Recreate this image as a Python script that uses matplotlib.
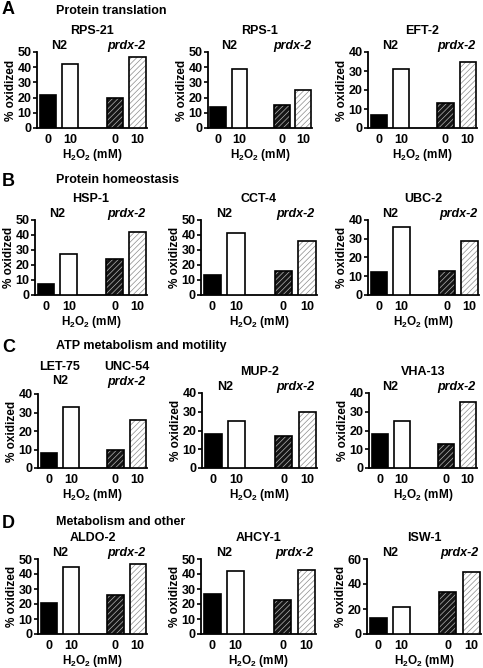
import matplotlib as mpl
import matplotlib.pyplot as plt

mpl.rcParams.update({
    'font.family': ['Liberation Sans', 'DejaVu Sans'],
    'font.weight': 'bold',
    'axes.labelweight': 'bold',
    'font.size': 9,
    'mathtext.fontset': 'custom',
    'mathtext.rm': 'Liberation Sans:bold',
    'mathtext.bf': 'Liberation Sans:bold',
    'mathtext.it': 'Liberation Sans:bold:italic',
    'mathtext.default': 'bf',
    'hatch.linewidth': 0.5,
})

# data
genes = ['RPS-21', 'RPS-1', 'EFT-2',
         'HSP-1', 'CCT-4', 'UBC-2',
         'LET-75', 'MUP-2', 'VHA-13',
         'ALDO-2', 'AHCY-1', 'ISW-1']
values = [[22, 42, 20, 47], [14, 39, 15, 25], [7, 31, 13, 35],
          [7, 27, 24, 42], [13, 41, 16, 36], [12, 36, 13, 29],
          [8, 33, 10, 26], [18, 25, 17, 30], [18, 25, 13, 35],
          [21, 45, 26, 47], [27, 42, 23, 43], [13, 22, 34, 50]]
ymax = [50, 50, 40, 50, 50, 40, 40, 40, 40, 50, 50, 60]
ystep = [10, 10, 10, 10, 10, 10, 10, 10, 10, 10, 10, 20]
dose_labels = ['0', '10', '0', '10']
sections = ['Protein translation', 'Protein homeostasis',
            'ATP metabolism and motility', 'Metabolism and other']
letters = ['A', 'B', 'C', 'D']

# panel boxes in pixels: left, right, top, bottom
boxes = [(37, 147, 52, 128), (208, 312, 52, 128), (368, 477, 52, 128),
         (35, 147, 220, 295), (201, 317, 220, 295), (368, 479, 220, 295),
         (38, 147, 394, 468), (202, 317, 393, 468), (369, 477, 393, 468),
         (38, 147, 559, 634), (201, 316, 559, 634), (367, 481, 559, 634)]
letter_y = [9, 181, 347, 524]
section_y = [11, 180, 346, 522]

W, H = 483, 668
fig = plt.figure(figsize=(W / 100, H / 100), dpi=100)

xs = [0, 1, 3, 4]
bw = 0.73
faces = ['black', 'white', '#151515', 'white']
hatch_cols = [None, None, '#b4b4b4', '#8c8c8c']

for i, g in enumerate(genes):
    l, r, t, b = boxes[i]
    ax = fig.add_axes([l / W, 1 - b / H, (r - l) / W, (b - t) / H])
    for j in range(4):
        if hatch_cols[j] is None:
            ax.bar(xs[j], values[i][j], bw, color=faces[j], edgecolor='black', linewidth=1.2, zorder=3)
        else:
            ax.bar(xs[j], values[i][j], bw, color=faces[j], edgecolor=hatch_cols[j],
                   hatch='//////', linewidth=0, zorder=3)
            ax.bar(xs[j], values[i][j], bw, fill=False, edgecolor='black', linewidth=1.2, zorder=4)
    ax.set_xlim(-0.48, 4.42)
    ax.set_ylim(0, ymax[i])
    ax.set_yticks(range(0, ymax[i] + 1, ystep[i]))
    ax.set_xticks(xs)
    ax.set_xticklabels(dose_labels)
    ax.tick_params(axis='x', length=0, pad=4, labelsize=9)
    ax.tick_params(axis='y', length=3, width=1.2, pad=1, labelsize=9)
    for s in ['top', 'right']:
        ax.spines[s].set_visible(False)
    for s in ['left', 'bottom']:
        ax.spines[s].set_linewidth(1.3)
    ax.set_ylabel('% oxidized', fontsize=8.5, labelpad=0.5)
    ax.set_xlabel('H$_2$O$_2$ (mM)', fontsize=8.5, labelpad=1)

    if g == 'LET-75':
        ax.annotate('N2', (0.5, 1), xycoords=('data', 'axes fraction'), xytext=(0, 9),
                    textcoords='offset points', ha='center', va='center')
        ax.annotate('prdx-2', (3.5, 1), xycoords=('data', 'axes fraction'), xytext=(0, 9),
                    textcoords='offset points', ha='center', va='center', style='italic')
        ax.annotate('LET-75', (0.5, 1), xycoords=('data', 'axes fraction'), xytext=(0, 19.5),
                    textcoords='offset points', ha='center', va='center')
        ax.annotate('UNC-54', (3.5, 1), xycoords=('data', 'axes fraction'), xytext=(0, 19.5),
                    textcoords='offset points', ha='center', va='center')
    else:
        ax.annotate('N2', (0.5, 1), xycoords=('data', 'axes fraction'), xytext=(0, 4),
                    textcoords='offset points', ha='center', va='center')
        ax.annotate('prdx-2', (3.5, 1), xycoords=('data', 'axes fraction'), xytext=(0, 4),
                    textcoords='offset points', ha='center', va='center', style='italic')
        ax.annotate(g, (0.5, 1), xycoords='axes fraction', xytext=(0, 15),
                    textcoords='offset points', ha='center', va='center')

for k in range(4):
    fig.text(2 / W, 1 - letter_y[k] / H, letters[k], fontsize=13, ha='left', va='center')
    fig.text(56 / W, 1 - section_y[k] / H, sections[k], fontsize=9, ha='left', va='center')

fig.savefig('out.png', dpi=100)
